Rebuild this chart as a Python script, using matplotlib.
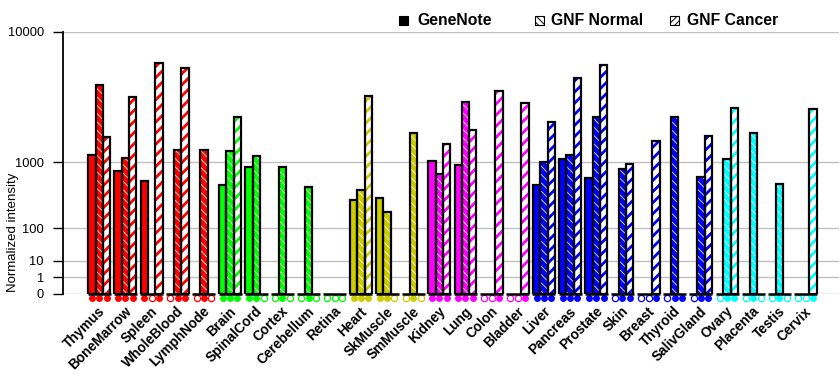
import numpy as np
import matplotlib
matplotlib.use("Agg")
import matplotlib.pyplot as plt
from matplotlib.patches import Rectangle

tissues = ["Thymus", "BoneMarrow", "Spleen", "WholeBlood", "LymphNode",
	"Brain", "SpinalCord", "Cortex", "Cerebellum", "Retina",
	"Heart", "SkMuscle", "SmMuscle",
	"Kidney", "Lung", "Colon", "Bladder",
	"Liver", "Pancreas", "Prostate", "Skin", "Breast", "Thyroid", "SalivGland",
	"Ovary", "Placenta", "Testis", "Cervix"]

tissue_colors = ["#ff0000"] * 5 + ["#00ff00"] * 5 + ["#cccc00"] * 3 + \
	["#ff00ff"] * 4 + ["#0000ff"] * 7 + ["#00ffff"] * 4

genenote = [1200, 800, 600, 0, 0, 540, 890, 0, 0, 0, 330, 350, 0, 1040,
	940, 0, 0, 530, 1090, 660, 0, 0, 0, 0, 0, 0, 0, 0]
gnf_normal = [4700, 1120, 0, 1350, 1350, 1330, 1180, 880, 510, 0, 460, 210, 1970, 740,
	3550, 0, 0, 1015, 1200, 2700, 850, 0, 2700, 670, 1100, 1970, 554, 0]
gnf_cancer = [1800, 3850, 6500, 6100, 0, 2700, 0, 0, 0, 0, 3900, 0, 0, 1550,
	2100, 4230, 3470, 2450, 5200, 6350, 965, 1670, 0, 1850, 3180, 0, 0, 3120]

# 1 = detected (filled marker), 0 = absent (open marker)
detected = ["111", "111", "101", "011", "010", "111", "110", "010", "010", "000",
	"111", "110", "010", "111", "111", "001", "001", "111", "111", "111",
	"011", "001", "011", "011", "011", "010", "010", "001"]

ytick_vals = [0, 1, 10, 100, 1000, 10000]


def fwd(v):
	return np.power(np.clip(v, 0, None), 0.3)


def inv(v):
	return np.power(np.clip(v, 0, None), 1 / 0.3)


def hatched_bars(ax, x, h, face, hatch_col, hatch, hlw):
	plt.rcParams["hatch.linewidth"] = hlw
	bars = ax.bar(x, h, width=0.28, color=face, edgecolor=hatch_col,
		hatch=hatch, linewidth=0, zorder=2)
	for b in bars:
		if hasattr(b, "set_hatch_linewidth"):
			b.set_hatch_linewidth(hlw)
	ax.bar(x, h, width=0.28, fill=False, edgecolor="black", linewidth=1.6, zorder=3)


def main():
	plt.rcParams["font.family"] = ["Liberation Sans", "DejaVu Sans"]

	fig = plt.figure(figsize=(8.4, 3.85), dpi=100)
	ax = fig.add_axes([63 / 840, 1 - 294 / 385, (839 - 63) / 840, (294 - 31.5) / 385])
	ax.set_yscale("function", functions=(fwd, inv))

	n = len(tissues)
	x = np.arange(n)
	w = 0.28

	for i in range(n):
		c = tissue_colors[i]
		if genenote[i] > 0:
			ax.bar(x[i] - w, genenote[i], width=w, color=c, edgecolor="black",
				linewidth=1.6, zorder=3)
		if gnf_normal[i] > 0:
			hatched_bars(ax, [x[i]], [gnf_normal[i]], c, "white", "\\\\\\\\", 0.55)
		if gnf_cancer[i] > 0:
			hatched_bars(ax, [x[i] + w], [gnf_cancer[i]], "white", c, "///", 2.0)

		# black baseline under each group
		ax.plot([x[i] - 1.5 * w - 0.02, x[i] + 1.5 * w + 0.02], [0, 0], color="black",
			linewidth=1.8, zorder=4, clip_on=False, solid_capstyle="butt")

		# detection markers
		for j in range(3):
			xm = x[i] + (j - 1) * w
			if detected[i][j] == "1":
				ax.plot(xm, -0.014, marker="o", markersize=5, color=c, markeredgewidth=0,
					transform=ax.get_xaxis_transform(), clip_on=False)
			else:
				ax.plot(xm, -0.014, marker="o", markersize=4.5, markerfacecolor="white",
					markeredgecolor=c, markeredgewidth=0.9,
					transform=ax.get_xaxis_transform(), clip_on=False)

		ax.text(x[i] + 0.15, -0.058, tissues[i], rotation=45, rotation_mode="anchor",
			ha="right", va="center", fontsize=9.8, fontweight="bold",
			transform=ax.get_xaxis_transform())

	ax.set_xlim(-1.388, 28.28)
	ax.set_ylim(0, 10000)
	ax.set_xticks([])
	ax.set_yticks(ytick_vals)
	ax.set_yticklabels([str(v) for v in ytick_vals], fontsize=9.3)
	ax.tick_params(axis="y", length=7.2, width=1, pad=6.5, color="black")
	ax.yaxis.grid(True, color="#c0c0c0", linewidth=1)
	ax.set_axisbelow(True)
	for s in ["top", "right", "bottom"]:
		ax.spines[s].set_visible(False)
	ax.spines["left"].set_linewidth(1.3)

	fig.text(13 / 840, 1 - 232 / 385, "Normalized intensity", rotation=90,
		ha="center", va="center", fontsize=9.5)

	# legend drawn by hand
	leg = [("GeneNote", 399, 417, "black", None),
		("GNF Normal", 535, 551, "white", "\\\\\\\\\\"),
		("GNF Cancer", 670, 687, "white", "/////")]
	plt.rcParams["hatch.linewidth"] = 0.7
	for label, ix, tx, face, hatch in leg:
		r = Rectangle((ix / 840, 1 - 25 / 385), 9 / 840, 9 / 385, transform=fig.transFigure,
			facecolor=face, edgecolor="black", hatch=hatch, linewidth=0.8)
		if hasattr(r, "set_hatch_linewidth"):
			r.set_hatch_linewidth(0.7)
		fig.patches.append(r)
		fig.text(tx / 840, 1 - 20.5 / 385, label, ha="left", va="center",
			fontsize=11.3, fontweight="bold")

	fig.savefig("out.png", dpi=100)


if __name__ == '__main__':
	main()
